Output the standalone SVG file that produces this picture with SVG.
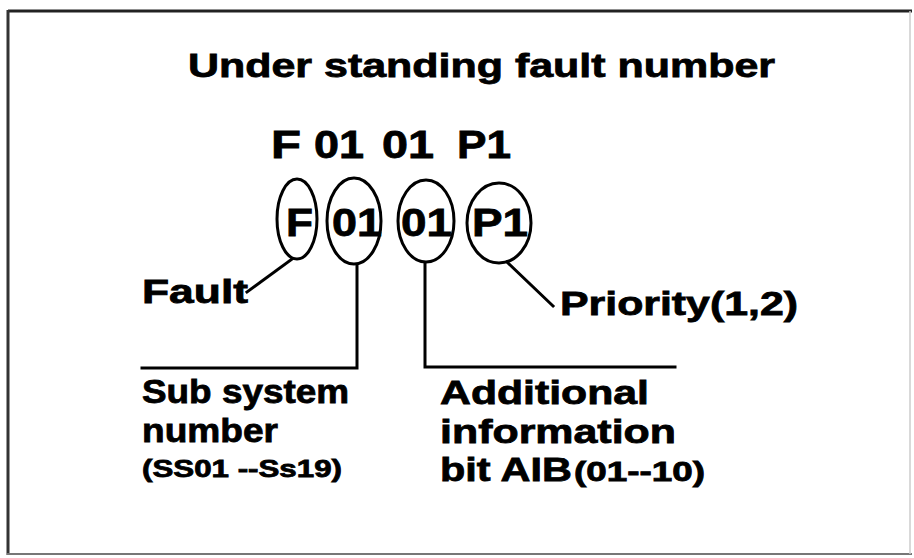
<svg xmlns="http://www.w3.org/2000/svg" width="914" height="558" viewBox="0 0 914 558">
  <style>
    text { font-family: "Liberation Sans", Arial, sans-serif; font-weight: bold; fill: #000; stroke: #000; stroke-width: 0.8; }
    .t34 { font-size: 34px; }
    .t24 { font-size: 24px; }
    .t27 { font-size: 27px; }
    .big { font-size: 39px; }
    .ell { fill: none; stroke: #000; stroke-width: 3; }
    .ln { fill: none; stroke: #000; stroke-width: 3; stroke-linecap: square; }
  </style>
  <rect x="0" y="0" width="914" height="558" fill="#fff"/>
  <g id="frame">
    <line x1="8" y1="11" x2="912" y2="11" stroke="#222" stroke-width="3"/>
    <line x1="8" y1="10" x2="8" y2="555" stroke="#333" stroke-width="3"/>
    <line x1="7" y1="554" x2="912" y2="554" stroke="#777" stroke-width="2"/>
    <line x1="910" y1="11" x2="910" y2="554" stroke="#ccc" stroke-width="1.5"/>
  </g>
  <g id="title">
    <text class="t34" x="188" y="77" textLength="587" lengthAdjust="spacingAndGlyphs">Under standing fault number</text>
  </g>
  <g id="code">
    <text class="big" x="271" y="158" textLength="30" lengthAdjust="spacingAndGlyphs">F</text>
    <text class="big" x="314" y="158" textLength="50" lengthAdjust="spacingAndGlyphs">01</text>
    <text class="big" x="382" y="158" textLength="52" lengthAdjust="spacingAndGlyphs">01</text>
    <text class="big" x="457" y="158" textLength="54" lengthAdjust="spacingAndGlyphs">P1</text>
  </g>
  <g id="node-f">
    <ellipse class="ell" cx="297" cy="219" rx="20" ry="40"/>
    <text class="big" x="286" y="236" textLength="27" lengthAdjust="spacingAndGlyphs">F</text>
  </g>
  <g id="node-01a">
    <ellipse class="ell" cx="354" cy="221" rx="27" ry="43"/>
    <text class="big" x="332" y="236" textLength="50" lengthAdjust="spacingAndGlyphs">01</text>
  </g>
  <g id="node-01b">
    <ellipse class="ell" cx="426" cy="221" rx="28" ry="41"/>
    <text class="big" x="401" y="236" textLength="51" lengthAdjust="spacingAndGlyphs">01</text>
  </g>
  <g id="node-p1">
    <ellipse class="ell" cx="499" cy="223" rx="32" ry="40"/>
    <text class="big" x="472" y="236" textLength="56" lengthAdjust="spacingAndGlyphs">P1</text>
  </g>
  <g id="connectors">
    <line class="ln" x1="292" y1="259" x2="247" y2="292"/>
    <polyline class="ln" points="357,266 357,368 142,368"/>
    <polyline class="ln" points="425,263 425,367 675,367"/>
    <line class="ln" x1="507" y1="262" x2="553" y2="306"/>
  </g>
  <g id="label-fault">
    <text class="t34" x="142" y="303" textLength="106" lengthAdjust="spacingAndGlyphs">Fault</text>
  </g>
  <g id="label-priority">
    <text class="t34" x="560" y="315" textLength="238" lengthAdjust="spacingAndGlyphs">Priority(1,2)</text>
  </g>
  <g id="label-subsystem">
    <text class="t34" x="142" y="403" textLength="207" lengthAdjust="spacingAndGlyphs">Sub system</text>
    <text class="t34" x="142" y="442" textLength="136" lengthAdjust="spacingAndGlyphs">number</text>
    <text class="t24" x="142" y="477" textLength="200" lengthAdjust="spacingAndGlyphs">(SS01 --Ss19)</text>
  </g>
  <g id="label-additional">
    <text class="t34" x="440" y="404" textLength="209" lengthAdjust="spacingAndGlyphs">Additional</text>
    <text class="t34" x="440" y="443" textLength="236" lengthAdjust="spacingAndGlyphs">information</text>
    <text class="t34" x="440" y="481" textLength="132" lengthAdjust="spacingAndGlyphs">bit AIB</text>
    <text class="t27" x="574" y="481" textLength="131" lengthAdjust="spacingAndGlyphs">(01--10)</text>
  </g>
</svg>
